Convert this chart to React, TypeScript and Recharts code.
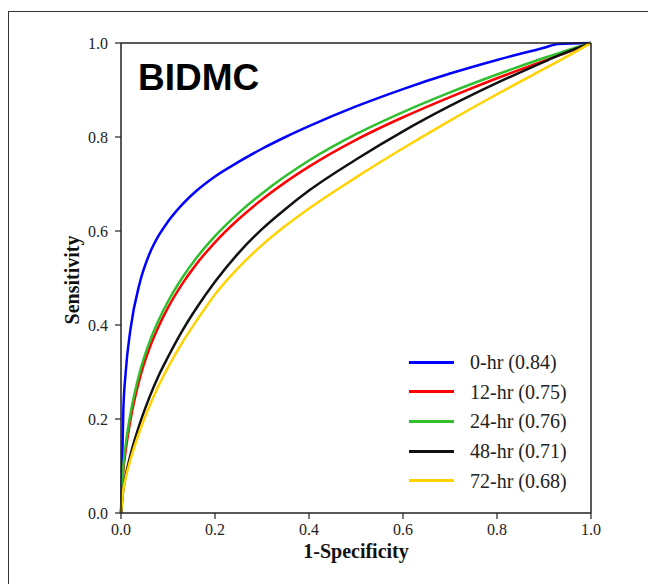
import React from "react";
import { LineChart, Line, XAxis, YAxis, ReferenceLine } from "recharts";

// false positive rate grid shared by all curves
const fpr = [0, 0.005, 0.01, 0.02, 0.04, 0.06, 0.08, 0.1, 0.13, 0.16, 0.2, 0.25, 0.3, 0.35, 0.4, 0.5, 0.6, 0.7, 0.8, 0.9, 0.93, 1];

const hr0 = [0, 0.22, 0.3, 0.39, 0.49, 0.55, 0.59, 0.62, 0.656, 0.685, 0.716, 0.747, 0.775, 0.8, 0.823, 0.865, 0.902, 0.935, 0.964, 0.99, 0.998, 1];
const hr12 = [0, 0.09, 0.133, 0.197, 0.287, 0.349, 0.397, 0.437, 0.487, 0.529, 0.576, 0.625, 0.667, 0.704, 0.737, 0.794, 0.842, 0.885, 0.925, 0.962, 0.973, 1];
const hr24 = [0, 0.1, 0.145, 0.21, 0.3, 0.362, 0.41, 0.45, 0.5, 0.542, 0.589, 0.638, 0.68, 0.717, 0.75, 0.806, 0.853, 0.895, 0.933, 0.968, 0.978, 1];
const hr48 = [0, 0.05, 0.08, 0.123, 0.19, 0.245, 0.292, 0.332, 0.387, 0.435, 0.492, 0.553, 0.604, 0.647, 0.686, 0.752, 0.812, 0.866, 0.915, 0.96, 0.973, 1];
const hr72 = [0, 0.05, 0.075, 0.113, 0.175, 0.226, 0.271, 0.31, 0.362, 0.408, 0.465, 0.522, 0.57, 0.611, 0.648, 0.714, 0.776, 0.835, 0.891, 0.945, 0.961, 1];

const ticks = [0, 0.2, 0.4, 0.6, 0.8, 1];

const series = [
  { key: "hr0", label: "0-hr (0.84)", color: "#0000ff", values: hr0 },
  { key: "hr12", label: "12-hr (0.75)", color: "#ff0000", values: hr12 },
  { key: "hr24", label: "24-hr (0.76)", color: "#2fbf2f", values: hr24 },
  { key: "hr48", label: "48-hr (0.71)", color: "#111111", values: hr48 },
  { key: "hr72", label: "72-hr (0.68)", color: "#ffd200", values: hr72 },
];

const rows = fpr.map((x, i) => {
  const row: Record<string, number> = { x };
  series.forEach((s) => {
    row[s.key] = s.values[i];
  });
  return row;
});

const axisColor = "#222";
const serif = "'Liberation Serif', 'Times New Roman', serif";

export default function App() {
  const tickStyle = { fill: "#222", fontSize: 16, fontFamily: serif };
  return (
    <div
      style={{
        position: "absolute",
        left: 0,
        top: 0,
        width: 648,
        height: 584,
        overflow: "hidden",
        background: "#fff",
        fontFamily: serif,
      }}
    >
      <div
        style={{
          position: "absolute",
          left: 8,
          top: 11,
          width: 700,
          height: 700,
          borderLeft: "1px solid #333",
          borderTop: "1px solid #333",
        }}
      />
      <div style={{ position: "absolute", left: 0, top: 0 }}>
        <LineChart
          width={648}
          height={584}
          data={rows}
          margin={{ top: 43, right: 57, left: 61, bottom: 21 }}
        >
          <XAxis
            dataKey="x"
            type="number"
            domain={[0, 1]}
            ticks={ticks}
            tickFormatter={(v: number) => v.toFixed(1)}
            height={50}
            tickSize={6}
            tickMargin={5}
            axisLine={{ stroke: axisColor, strokeWidth: 1.5 }}
            tickLine={{ stroke: axisColor, strokeWidth: 1.2 }}
            tick={tickStyle}
          />
          <YAxis
            type="number"
            domain={[0, 1]}
            ticks={ticks}
            tickFormatter={(v: number) => v.toFixed(1)}
            width={60}
            tickSize={6}
            tickMargin={7}
            axisLine={{ stroke: axisColor, strokeWidth: 1.5 }}
            tickLine={{ stroke: axisColor, strokeWidth: 1.2 }}
            tick={tickStyle}
          />
          {series.map((s) => (
            <Line
              key={s.key}
              dataKey={s.key}
              type="monotone"
              stroke={s.color}
              strokeWidth={2.5}
              dot={false}
              isAnimationActive={false}
            />
          ))}
          <ReferenceLine y={1} stroke={axisColor} strokeWidth={1.5} />
          <ReferenceLine x={1} stroke={axisColor} strokeWidth={1.5} />
        </LineChart>
      </div>
      <div
        style={{
          position: "absolute",
          left: 138,
          top: 59,
          fontFamily: "'Liberation Sans', Arial, sans-serif",
          fontWeight: "bold",
          fontSize: 37,
          lineHeight: "37px",
          color: "#000",
        }}
      >
        BIDMC
      </div>
      <div
        style={{
          position: "absolute",
          left: 356,
          top: 541,
          transform: "translateX(-50%)",
          fontWeight: "bold",
          fontSize: 20,
          lineHeight: "20px",
          whiteSpace: "nowrap",
          color: "#111",
        }}
      >
        1-Specificity
      </div>
      <div
        style={{
          position: "absolute",
          left: 72,
          top: 280,
          transform: "translate(-50%, -50%) rotate(-90deg)",
          fontWeight: "bold",
          fontSize: 20,
          lineHeight: "20px",
          whiteSpace: "nowrap",
          color: "#111",
        }}
      >
        Sensitivity
      </div>
      {series.map((s, i) => {
        const cy = 362 + i * 29.7;
        return (
          <React.Fragment key={s.key}>
            <div
              style={{
                position: "absolute",
                left: 409,
                top: cy - 1.5,
                width: 45,
                height: 3,
                background: s.color,
              }}
            />
            <div
              style={{
                position: "absolute",
                left: 470,
                top: cy - 10,
                fontSize: 20,
                lineHeight: "20px",
                whiteSpace: "nowrap",
                color: "#222",
              }}
            >
              {s.label}
            </div>
          </React.Fragment>
        );
      })}
    </div>
  );
}
